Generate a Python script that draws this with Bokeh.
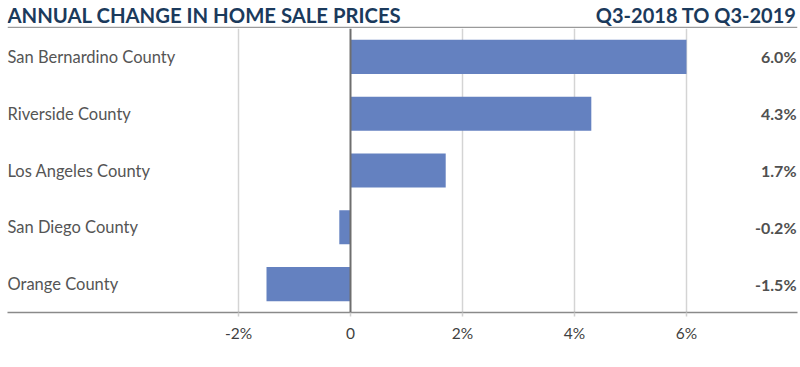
from bokeh.plotting import figure
from bokeh.layouts import column
from bokeh.models import FactorRange, Range1d, FixedTicker, Span, ColumnDataSource
from bokeh.core.properties import value
from bokeh.embed import file_html
from bokeh.resources import INLINE

categories = ["San Bernardino County", "Riverside County", "Los Angeles County",
              "San Diego County", "Orange County"]
changes = [6.0, 4.3, 1.7, -0.2, -1.5]
value_labels = ["6.0%", "4.3%", "1.7%", "-0.2%", "-1.5%"]
tick_values = [-2, 0, 2, 4, 6]
tick_labels = ["-2%", "0", "2%", "4%", "6%"]
title_left = "ANNUAL CHANGE IN HOME SALE PRICES"
title_right = "Q3-2018 TO Q3-2019"

W = 800
HEAD_H, MAIN_H = 28, 339
BL, BR = 7, 3
x_start, x_end = -6.125, 7.982

# ---------- header ----------
head = figure(width=W, height=HEAD_H, output_backend="svg", toolbar_location=None,
              x_range=Range1d(0, 1), y_range=Range1d(0, HEAD_H),
              min_border_left=BL, min_border_right=BR, min_border_top=0, min_border_bottom=0)
head.axis.visible = False
head.grid.visible = False
head.outline_line_color = None
head.text(x=[0], y=[HEAD_H - 14.5], text=[title_left], text_align="left",
          text_baseline="middle", text_font=value("Lato"), text_font_style="bold",
          text_font_size="20.3px", text_color="#1b3a5c")
head.text(x=[1], y=[HEAD_H - 14.5], text=[title_right], text_align="right",
          text_baseline="middle", text_font=value("Lato"), text_font_style="bold",
          text_font_size="20px", text_color="#1b3a5c", x_offset=-1)
head.add_layout(Span(location=1, dimension="width", line_color="#9a9a9a", line_width=1.5))

# ---------- main chart ----------
src = ColumnDataSource(dict(cat=categories, chg=changes, lbl=value_labels))

p = figure(width=W, height=MAIN_H, output_backend="svg", toolbar_location=None,
           y_range=FactorRange(factors=list(reversed(categories)), range_padding=0),
           x_range=Range1d(x_start, x_end),
           min_border_left=BL, min_border_right=BR, min_border_top=0, min_border_bottom=55)
p.outline_line_color = None

p.ygrid.grid_line_color = None
p.xgrid.ticker = FixedTicker(ticks=[t for t in tick_values if t != 0])
p.xgrid.grid_line_color = "#d4d4d4"
p.xgrid.grid_line_width = 1.5

p.hbar(y="cat", right="chg", left=0, height=0.6, source=src,
       fill_color="#6481c0", line_color=None)

p.add_layout(Span(location=0, dimension="height", line_color="#6e6e6e", line_width=2))

p.yaxis.visible = False
ax = p.xaxis[0]
ax.ticker = FixedTicker(ticks=tick_values)
ax.major_label_overrides = {t: l for t, l in zip(tick_values, tick_labels)}
ax.axis_line_color = "#8a8a8a"
ax.axis_line_width = 1.5
ax.major_tick_line_color = "#d0d0d0"
ax.major_tick_line_width = 1.5
ax.major_tick_in = 0
ax.major_tick_out = 4
ax.minor_tick_line_color = None
ax.major_label_standoff = 7
ax.major_label_text_font = "Lato"
ax.major_label_text_font_size = "15.5px"
ax.major_label_text_color = "#3f3f3f"

p.text(x=x_start, y="cat", text="cat", source=src, text_align="left",
       text_baseline="middle", text_font=value("Lato"), text_font_size="16.5px",
       text_color="#555555")
p.text(x=x_end, y="cat", text="lbl", source=src, text_align="right",
       text_baseline="middle", text_font=value("Lato"), text_font_size="16px",
       text_font_style="bold", text_color="#505050", x_offset=-1)

layout = column(head, p, spacing=0)
open("out.html", "w").write(file_html(layout, INLINE))
